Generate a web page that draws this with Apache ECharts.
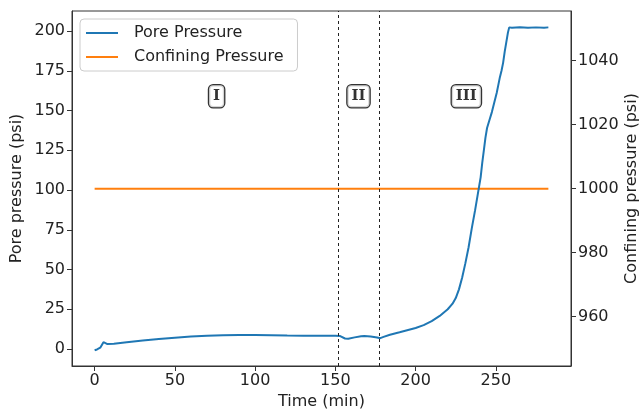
<!DOCTYPE html>
<html>
<head>
<meta charset="utf-8">
<script src="https://cdn.jsdelivr.net/npm/echarts@6/dist/echarts.min.js"></script>
<style>html,body{margin:0;padding:0;background:#fff}#c{width:643px;height:412px}</style>
</head>
<body>
<div id="c"></div>
<script>
// Pore pressure (psi) vs time (min)
const poreTime = [0,1.5,3.5,4.5,5.5,6.5,8,12,20,30,40,50,60,70,80,90,100,110,120,130,140,150,153,156,158,162,166,168,172,176,178,180,184,190,200,205,210,215,220,223,225,227,229,231,233,235,237,238.5,239.5,240.5,241.5,242.5,243.5,244.5,246,247.5,249,250.5,251.5,252.5,253.5,254.5,255.5,256.5,257.5,258.3,260,265,270,275,280,282.7];
const porePressure = [-0.8,-0.3,0.8,1.5,4.3,3.4,3.1,3.3,4.2,5.3,6.3,7.1,7.8,8.4,8.7,8.8,8.8,8.7,8.5,8.4,8.3,8.3,8.1,6.6,6.4,7.3,8.0,8.2,7.8,7.2,6.8,7.6,9.0,10.5,13.2,15.0,17.5,20.8,25.0,28.5,32,37.5,45,54,64,76,87,96,102,108,117,125,133,139,144,149,155,161,166,171,175,180,187,193,199,202.3,202.1,202.4,202.0,202.3,202.1,202.3];
// Confining pressure (psi)
const confTime = [0, 282.7];
const confPressure = [1000, 1000];
// Stage boundaries (min)
const stageBounds = [152, 177.5];
// Stage labels
const stageNames = ['I','II','III'];
const stageX = [76, 164.4, 231.6];
const stageY = [159, 159, 159];
// Ticks
const xTicks = [0,50,100,150,200,250];
const yLeftTicks = [0,25,50,75,100,125,150,175,200];
const yRightTicks = [960,980,1000,1020,1040];

const font = 'DejaVu Sans';
const poreData = poreTime.map((t,i)=>[t, porePressure[i]]);
const confData = confTime.map((t,i)=>[t, confPressure[i]]);
const stageData = stageNames.map((n,i)=>[stageX[i], stageY[i], n]);

const chart = echarts.init(document.getElementById('c'), null, {renderer:'canvas'});
const axisCommon = {
  axisLine:{show:true, onZero:false, lineStyle:{color:'#333', width:1}},
  axisTick:{show:true, length:5, lineStyle:{color:'#333', width:1}},
  axisLabel:{color:'#222', fontFamily:font, fontSize:16},
  splitLine:{show:false},
  nameTextStyle:{color:'#222', fontFamily:font, fontSize:16},
  nameLocation:'middle',
  nameMoveOverlap:false
};
chart.setOption({
  animation:false,
  backgroundColor:'#fff',
  grid:{left:72, right:72, top:11, bottom:46, show:true, borderColor:'#333', borderWidth:1, containLabel:false, outerBoundsMode:'none'},
  legend:{
    data:['Pore Pressure','Confining Pressure'],
    orient:'vertical', left:80, top:19,
    icon:'rect', itemWidth:32, itemHeight:2, itemGap:8,
    backgroundColor:'#fff', borderColor:'#ccc', borderWidth:1, borderRadius:4,
    padding:[6,14,6,6],
    textStyle:{color:'#222', fontFamily:font, fontSize:16, padding:[0,0,0,11]}
  },
  xAxis:Object.assign({}, axisCommon, {
    type:'value', min:-14.1, max:296.8, name:'Time (min)', nameGap:28,
    axisTick:Object.assign({}, axisCommon.axisTick, {customValues:xTicks}),
    axisLabel:Object.assign({}, axisCommon.axisLabel, {customValues:xTicks, margin:7, formatter:v=>String(v)})
  }),
  yAxis:[
    Object.assign({}, axisCommon, {
      type:'value', min:-10.7, max:212.6, name:'Pore pressure (psi)', nameGap:47, nameRotate:90,
      axisTick:Object.assign({}, axisCommon.axisTick, {customValues:yLeftTicks}),
      axisLabel:Object.assign({}, axisCommon.axisLabel, {customValues:yLeftTicks, margin:7, formatter:v=>String(v)})
    }),
    Object.assign({}, axisCommon, {
      type:'value', position:'right', min:944.6, max:1055.5, name:'Confining pressure (psi)', nameGap:53, nameRotate:90,
      axisTick:Object.assign({}, axisCommon.axisTick, {customValues:yRightTicks}),
      axisLabel:Object.assign({}, axisCommon.axisLabel, {customValues:yRightTicks, margin:7, formatter:v=>String(v)})
    })
  ],
  series:[
    {
      name:'Pore Pressure', type:'line', data:poreData, yAxisIndex:0,
      showSymbol:false, symbol:'none', color:'#1f77b4',
      lineStyle:{color:'#1f77b4', width:2}, z:3,
      markLine:{
        silent:true, symbol:'none', animation:false,
        label:{show:false},
        lineStyle:{color:'#222', type:[3,3], width:1},
        data:stageBounds.map(v=>({xAxis:v}))
      }
    },
    {
      name:'Confining Pressure', type:'line', data:confData, yAxisIndex:1,
      showSymbol:false, symbol:'none', color:'#ff7f0e',
      lineStyle:{color:'#ff7f0e', width:2}, z:2
    },
    {
      name:'stages', type:'scatter', data:stageData, yAxisIndex:0,
      symbolSize:0, silent:true, z:5,
      label:{
        show:true, position:'inside', formatter:p=>p.data[2],
        fontFamily:'DejaVu Serif', fontWeight:'bold', fontSize:15, color:'#000',
        backgroundColor:'#fff', borderColor:'#000', borderWidth:1.3, borderRadius:4,
        padding:[4,4,3,4]
      }
    }
  ]
});
</script>
</body>
</html>
